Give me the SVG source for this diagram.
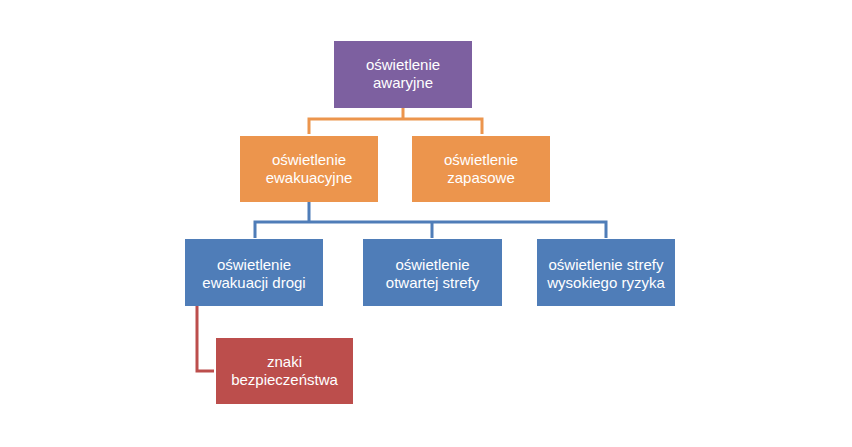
<svg xmlns="http://www.w3.org/2000/svg" width="852" height="447" viewBox="0 0 852 447">
<style>
text{font-family:"Liberation Sans",Arial,sans-serif;font-size:15px;fill:#fff;text-anchor:middle}
.c{fill:none;stroke-width:3;stroke-linejoin:miter}
.o{stroke:#EC954D}.b{stroke:#4F7DB8}.r{stroke:#BC4E4C}
</style>
<rect width="852" height="447" fill="#fff"/>
<g id="connectors">
<path class="c o" d="M403 108V119M309 134V119H482V134"/>
<path class="c b" d="M309 202V222M255 238V222H606V238M432 222V238"/>
<path class="c r" d="M197 306V371H214"/>
</g>
<g id="n1"><rect x="334" y="41" width="138" height="67" fill="#7D60A0"/><text x="403" y="70">oświetlenie</text><text x="403" y="88">awaryjne</text></g>
<g id="n2"><rect x="240" y="136" width="138" height="66" fill="#EC954D"/><text x="309" y="164.5">oświetlenie</text><text x="309" y="182.5">ewakuacyjne</text></g>
<g id="n3"><rect x="412" y="136" width="138" height="66" fill="#EC954D"/><text x="481" y="164.5">oświetlenie</text><text x="481" y="182.5">zapasowe</text></g>
<g id="n4"><rect x="185" y="239" width="138" height="67" fill="#4F7DB8"/><text x="254" y="270">oświetlenie</text><text x="254" y="288">ewakuacji drogi</text></g>
<g id="n5"><rect x="363" y="239" width="139" height="67" fill="#4F7DB8"/><text x="432.5" y="270">oświetlenie</text><text x="432.5" y="288">otwartej strefy</text></g>
<g id="n6"><rect x="537" y="239" width="138" height="67" fill="#4F7DB8"/><text x="606" y="270">oświetlenie strefy</text><text x="606" y="288">wysokiego ryzyka</text></g>
<g id="n7"><rect x="216" y="338" width="137" height="66" fill="#BC4E4C"/><text x="284.5" y="366.5">znaki</text><text x="284.5" y="384.5">bezpieczeństwa</text></g>
</svg>
